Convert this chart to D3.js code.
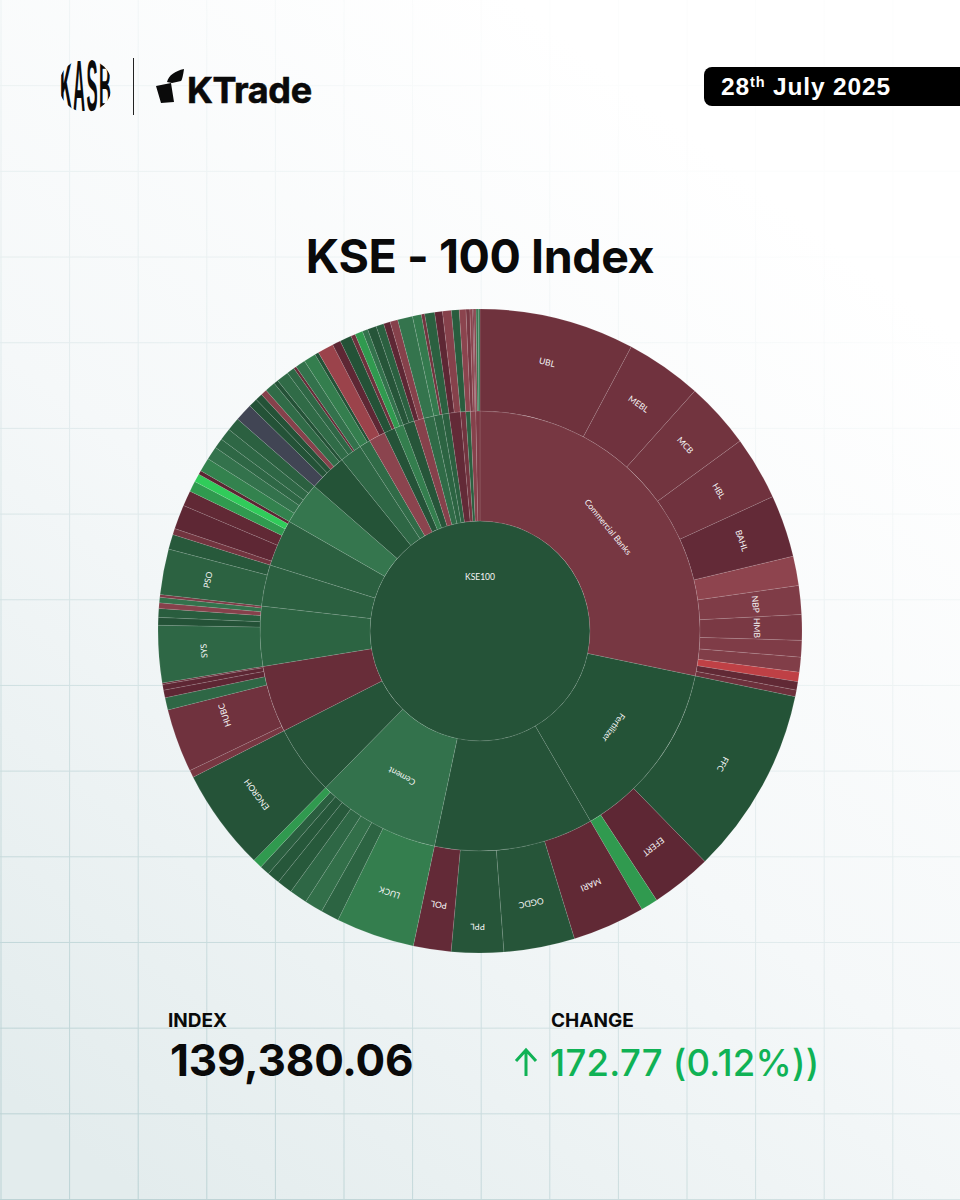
<!DOCTYPE html>
<html>
<head>
<meta charset="utf-8">
<style>
  html, body { margin: 0; padding: 0; background: #fff; }
  svg { display: block; }
  .leaf-label { font-family: Lato, sans-serif; font-size: 8.5px; fill: #f6f6f6; text-anchor: middle; dominant-baseline: middle; }
  .head { font-family: Inter, sans-serif; font-weight: 700; }
</style>
</head>
<body>
<svg id="chart" width="960" height="1200"></svg>
<script src="https://cdn.jsdelivr.net/npm/d3@7"></script>
<script>
const rootName = "KSE100";
const rootChange = 0.05;

const sectorNames = ["Commercial Banks", "Fertilizer", "", "Cement", "", "", "", "", "", "", "", "", "", "", "", "", "", "", "", "", "", "", "", "", "", ""];
const sectorChanges = [-0.6, 0.03, 0.04, 0.9, 0.05, -0.3, 0.5, 0.4, 0.4, 1, 0.03, 0.6, 0.7, -1, 0.05, 1.2, 0.1, -0.9, 0.7, 0.5, 0.4, -0.2, -0.5, 0.4, -0.9, -0.7];

const leafNames = [
  ["UBL", "MEBL", "MCB", "HBL", "BAHL", "", "NBP", "HMB", "", "", "", "", ""],
  ["FFC", "EFERT", ""],
  ["MARI", "OGDC", "PPL", "POL"],
  ["LUCK", "", "", "", "", "", "", ""],
  ["ENGROH"],
  ["", "HUBC", "", "", "", ""],
  ["SYS", "", "", "", "", ""],
  ["PSO", ""],
  ["", "", "", "", "", ""],
  ["", "", "", "", ""],
  ["", "", "", "", "", ""],
  ["", "", "", ""],
  ["", ""],
  ["", ""],
  ["", ""],
  ["", ""],
  ["", ""],
  ["", ""],
  [""],
  ["", ""],
  [""],
  ["", ""],
  [""],
  [""],
  ["", "", ""],
  ["", "", ""]
];
const leafWeights = [
  [28, 13.8, 12, 11.5, 11.2, 5.3, 5.2, 4.6, 3, 2.7, 1.7, 1.5, 1.2],
  [33.9, 11, 3.1],
  [13.1, 12.8, 9.4, 6.8],
  [14.2, 3.3, 3.3, 3.2, 2.8, 2.3, 1.8, 1.7],
  [18.4],
  [1.3, 11.5, 2.2, 1.4, 1.0, 0.3],
  [10.3, 1.4, 1.6, 1, 1, 0.5],
  [8.2, 2.7],
  [1.1, 4.4, 2.8, 1.9, 1.5, 0.7],
  [2.5, 2.4, 1.8, 2.2, 2.4],
  [3.2, 1.6, 1.3, 1.1, 1.9, 0.8],
  [2.2, 1.4, 0.5, 1.8],
  [2.2, 0.7],
  [2.9, 1.5],
  [2.1, 0.8],
  [1.4, 1],
  [1.6, 1.4],
  [1.2, 1.4],
  [2.7],
  [1.6, 0.6],
  [1.8],
  [1.4, 1.6],
  [1.4],
  [1.2],
  [0.7, 0.5, 0.2],
  [0.4, 0.4, 0.3]
];
const leafChanges = [
  [-0.43, -0.45, -0.5, -0.45, -0.2, -1.05, -0.75, -0.65, -0.75, -0.8, -2, -0.15, -0.4],
  [0.03, -0.1, 1.9],
  [-0.15, 0.1, 0.1, -0.2],
  [1.2, 0.5, 0.8, 0.6, 0.2, 0.15, 0.35, 1.9],
  [0.05],
  [-0.6, -0.45, 0.6, -0.1, -0.1, -0.3],
  [0.6, 0.01, 0.3, -0.9, 0.9, -0.7],
  [0.45, 0.2],
  [-0.5, -0.1, -0.15, 1.9, 3, -0.05],
  [1.3, 0.9, 0.6, 0.6, 0.4],
  [0, 0.02, 0.01, -0.9, 0.7, 0.01],
  [0.7, 0.6, -0.3, 0.9],
  [1.2, 0.02],
  [-1.3, -0.1],
  [0.02, -0.4],
  [1.9, 0.9],
  [0.1, 0.4],
  [-0.1, -0.9],
  [0.95],
  [1.1, -0.5],
  [0.4],
  [-0.1, -0.9],
  [0.3],
  [-1],
  [-0.6, -1, -0.4],
  [-1, 1, 1]
];

const headerDate = ["28", "th", " July 2025"];
const titleText = "KSE - 100 Index";
const indexLabel = "INDEX";
const indexValue = "139,380.06";
const changeLabel = "CHANGE";
const changeValue = "172.77 (0.12%))";

const width = 960, height = 1200;
const cx = 480, cy = 631;
const svg = d3.select("#chart");
const defs = svg.append("defs");

// page background and the faint grid behind everything
const bgGrad = defs.append("linearGradient").attr("id", "bg")
    .attr("x1", 0.7).attr("y1", 0.1).attr("x2", 0.15).attr("y2", 1);
bgGrad.append("stop").attr("offset", "0%").attr("stop-color", "#ffffff");
bgGrad.append("stop").attr("offset", "50%").attr("stop-color", "#f5f8f9");
bgGrad.append("stop").attr("offset", "100%").attr("stop-color", "#e3eced");
svg.append("rect").attr("width", width).attr("height", height).attr("fill", "url(#bg)");

const fadeGrad = defs.append("linearGradient").attr("id", "gridFade")
    .attr("x1", 0.7).attr("y1", 0).attr("x2", 0.15).attr("y2", 1);
fadeGrad.append("stop").attr("offset", "10%").attr("stop-color", "#fff").attr("stop-opacity", 0.05);
fadeGrad.append("stop").attr("offset", "55%").attr("stop-color", "#fff").attr("stop-opacity", 0.35);
fadeGrad.append("stop").attr("offset", "100%").attr("stop-color", "#fff").attr("stop-opacity", 1);
defs.append("mask").attr("id", "gridMask").attr("maskUnits", "userSpaceOnUse")
    .attr("x", 0).attr("y", 0).attr("width", width).attr("height", height)
    .append("rect").attr("width", width).attr("height", height).attr("fill", "url(#gridFade)");

const grid = svg.append("g").attr("mask", "url(#gridMask)")
    .attr("stroke", "#bcd3d5").attr("stroke-width", 1);
grid.selectAll(".v").data(d3.range(0, 15)).enter().append("line")
    .attr("x1", d => 1 + d * 68.6).attr("x2", d => 1 + d * 68.6)
    .attr("y1", 0).attr("y2", height);
grid.selectAll(".h").data(d3.range(1, 15)).enter().append("line")
    .attr("y1", d => d * 85.68).attr("y2", d => d * 85.68)
    .attr("x1", 0).attr("x2", width);

// logos
const kasbClip = defs.append("clipPath").attr("id", "kasbClip");
kasbClip.append("circle").attr("cx", 85.5).attr("cy", 85.5).attr("r", 26.5);
const kasb = svg.append("g").attr("clip-path", "url(#kasbClip)");
kasb.selectAll("text").data(["K", "A", "S", "B"]).enter().append("text")
    .attr("text-anchor", "middle")
    .attr("transform", (d, i) => `translate(${66 + i * 13},111) scale(0.42,1.8)`)
    .attr("font-family", "'Liberation Sans', sans-serif").attr("font-weight", 700)
    .attr("font-size", 40).attr("fill", "#0a0a0a").text(d => d);
svg.append("line").attr("x1", 133.5).attr("x2", 133.5).attr("y1", 58).attr("y2", 115)
    .attr("stroke", "#222").attr("stroke-width", 1);
svg.append("path")
    .attr("d", "M156,86 L171,83 L174,102 L161,103 Z M167,82 C169,75 175,71 184,69 C183,76 182,80 181,81 L172,83 Z")
    .attr("fill", "#0a0a0a");
svg.append("text").attr("class", "head").attr("x", 187).attr("y", 103)
    .attr("font-size", 36).attr("font-weight", 800).attr("letter-spacing", -0.4)
    .attr("stroke", "#0a0a0a").attr("stroke-width", 0.6).attr("fill", "#0a0a0a").text("KTrade");

// date badge
svg.append("path").attr("d", "M960,67 H712 a8,8 0 0 0 -8,8 V98 a8,8 0 0 0 8,8 H960 Z").attr("fill", "#000");
const dateText = svg.append("text").attr("x", 721).attr("y", 95)
    .attr("font-family", "'Liberation Sans', sans-serif").attr("font-weight", 700)
    .attr("font-size", 24.5).attr("letter-spacing", 0.85).attr("fill", "#fff");
dateText.append("tspan").text(headerDate[0]);
dateText.append("tspan").attr("dy", -8).attr("font-size", 14.5).text(headerDate[1]);
dateText.append("tspan").attr("dy", 8).attr("xml:space", "preserve").text(headerDate[2]);

// title
svg.append("text").attr("class", "head").attr("x", 480).attr("y", 273)
    .attr("text-anchor", "middle").attr("font-size", 46.5).attr("letter-spacing", -0.4)
    .attr("fill", "#0a0a0a").text(titleText);

// sunburst
const treeData = {
  name: rootName,
  change: rootChange,
  children: sectorNames.map((name, i) => ({
    name: name,
    change: sectorChanges[i],
    children: leafNames[i].map((leaf, j) => ({
      name: leaf,
      change: leafChanges[i][j],
      value: leafWeights[i][j]
    }))
  }))
};

const root = d3.partition().size([2 * Math.PI, 3])(
  d3.hierarchy(treeData).sum(d => d.value)
);

const radius = d3.scaleLinear().domain([0, 1, 2, 3]).range([0, 110, 220, 322]);

const color = d3.scaleLinear()
    .domain([-3, -2, -1, -0.01, 0, 0.01, 1, 2, 3])
    .range(["#f63538", "#bf4045", "#8b444e", "#5a2431", "#414554", "#245237", "#35764e", "#2f9e4f", "#30cc5a"])
    .clamp(true);

const arc = d3.arc()
    .startAngle(d => d.x0)
    .endAngle(d => d.x1)
    .innerRadius(d => radius(d.y0))
    .outerRadius(d => radius(d.y1));

const burst = svg.append("g").attr("transform", `translate(${cx},${cy})`);

burst.selectAll("path")
    .data(root.descendants())
    .enter().append("path")
    .attr("d", arc)
    .attr("fill", d => color(d.data.change))
    .attr("stroke", "rgba(255,255,255,0.17)")
    .attr("stroke-width", 0.6);

const labelRadius = d => {
    if (d.depth === 1) return 164;
    if (d.data.name === "PPL") return 295;
    if (d.data.name === "HUBC") return 268;
    return 276;
};
// HUBC sits a little past the middle of its slice
const labelNudge = d => d.data.name === "HUBC" ? 1.7 : 0;

burst.selectAll("text")
    .data(root.descendants().filter(d => d.data.name))
    .enter().append("text")
    .attr("class", "leaf-label")
    .attr("transform", d => {
        if (d.depth === 0) return "translate(0,-53)";
        const mid = (d.x0 + d.x1) / 2 * 180 / Math.PI + labelNudge(d);
        return `rotate(${mid}) translate(0,${-labelRadius(d)})`;
    })
    .text(d => d.data.name);

// index readout
svg.append("text").attr("class", "head").attr("x", 168).attr("y", 1027)
    .attr("font-size", 19).attr("font-weight", 600).attr("fill", "#0a0a0a").text(indexLabel);
svg.append("text").attr("class", "head").attr("x", 170).attr("y", 1076)
    .attr("font-size", 44).attr("letter-spacing", -0.2).attr("fill", "#0a0a0a").text(indexValue);
svg.append("text").attr("class", "head").attr("x", 551).attr("y", 1027)
    .attr("font-size", 19).attr("font-weight", 600).attr("fill", "#0a0a0a").text(changeLabel);
svg.append("path").attr("d", "M526,1076 V1050 M516,1061 L526,1050 L536,1061")
    .attr("fill", "none").attr("stroke", "#10b255").attr("stroke-width", 3);
svg.append("text").attr("x", 550).attr("y", 1076)
    .attr("font-family", "Inter, sans-serif").attr("font-weight", 500)
    .attr("font-size", 36.5).attr("letter-spacing", 0.25).attr("fill", "#10b255").text(changeValue);
</script>
</body>
</html>
